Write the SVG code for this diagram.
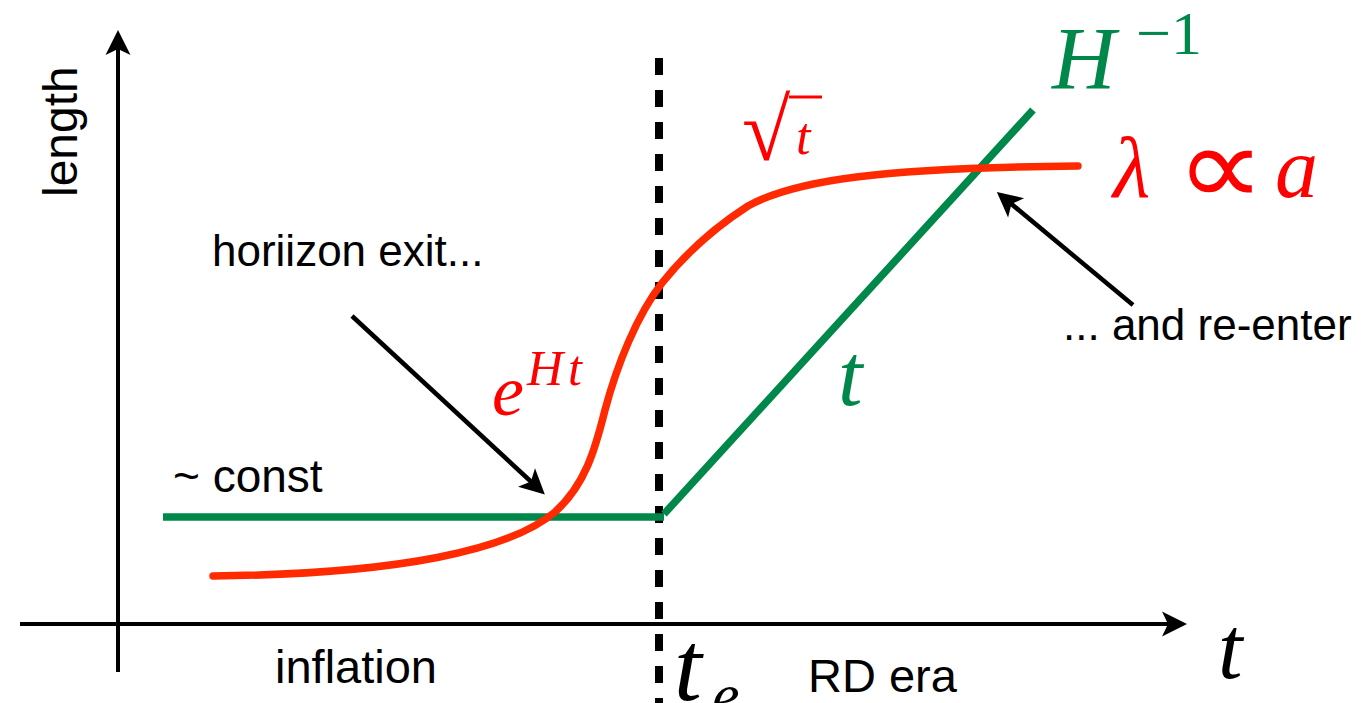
<svg xmlns="http://www.w3.org/2000/svg" width="1364" height="703" viewBox="0 0 1364 703">
<style>
.axis{stroke:#000;stroke-width:4;fill:none}
.arrow{stroke:#000;stroke-width:4.5;fill:none}
.green{stroke:#00874a;stroke-width:7.5;fill:none}
.red{stroke:#ff2a00;stroke-width:7.5;fill:none;stroke-linecap:round}
.dash{stroke:#000;stroke-width:8;stroke-dasharray:17 15;fill:none}
.sans{font-family:"Liberation Sans",Arial,sans-serif;fill:#000}
.math{font-family:"Liberation Serif","DejaVu Serif",serif;font-style:italic}
.up{font-family:"Liberation Serif","DejaVu Serif",serif;font-style:normal}
</style>
<defs>
<marker id="ah" viewBox="-26 -13 27 26" markerWidth="27" markerHeight="26" refX="-8" refY="0" orient="auto" markerUnits="userSpaceOnUse">
<path d="M0,0 L-25,-12.5 L-19,0 L-25,12.5 Z" fill="#000"/>
</marker>
</defs>
<g id="axes">
<line class="axis" x1="118" y1="672" x2="118" y2="38" marker-end="url(#ah)"/>
<line class="axis" x1="20" y1="624" x2="1179" y2="624" marker-end="url(#ah)"/>
<line class="dash" x1="659" y1="58" x2="659" y2="703"/>
</g>
<g id="connectors">
<line class="green" x1="163" y1="517" x2="664" y2="517"/>
<line class="green" x1="664" y1="514" x2="1033" y2="110"/>
<path class="red" d="M213,576 C400,574 510,550 555,512 C585,485 595,450 605,410 C617,365 637,315 662,283 C690,248 720,224 748,206 C795,180 880,168 1078,166"/>
<line class="arrow" x1="352" y1="316" x2="539" y2="489" marker-end="url(#ah)"/>
<line class="arrow" x1="1133" y1="305" x2="1003" y2="197" marker-end="url(#ah)"/>
</g>
<g id="labels">
<text class="sans" font-size="48" transform="translate(77,197) rotate(-90)">length</text>
<text class="sans" font-size="44" x="212" y="266">horiizon exit...</text>
<text class="sans" font-size="46" x="173" y="492">~ const</text>
<text class="sans" font-size="44" x="1063" y="340">... and re-enter</text>
<text class="sans" font-size="47" x="275" y="683">inflation</text>
<text class="sans" font-size="47" x="808" y="692">RD era</text>
</g>
<g id="math-labels">
<text class="math" fill="#00874a" font-size="88" x="1052" y="88">H</text>
<text class="up" fill="#00874a" font-size="62" x="1136" y="54">−1</text>
<text class="math" fill="#ff0000" font-size="86" x="1113" y="197">λ</text>
<text fill="#ff0000" font-size="86" font-family="'DejaVu Sans',sans-serif" font-weight="200" transform="translate(1176,205) scale(1.45,1.3)">∝</text>
<text class="math" fill="#ff0000" font-size="86" x="1275" y="197">a</text>
<text class="math" fill="#ff0000" font-size="72" x="492" y="415">e</text>
<text class="math" fill="#ff0000" font-size="50" x="527" y="385" letter-spacing="5">Ht</text>
<text class="up" fill="#ff0000" font-size="88" x="742" y="160">√</text>
<line x1="789" y1="97" x2="822" y2="97" stroke="#ff0000" stroke-width="3"/>
<text class="math" fill="#ff0000" font-size="52" x="796" y="154">t</text>
<text class="math" fill="#00874a" font-size="88" x="838" y="405">t</text>
<text class="math" fill="#000" font-size="88" x="1218" y="678">t</text>
<text class="math" fill="#000" font-size="100" x="674" y="700">t</text>
<text class="math" fill="#000" font-size="62" x="712" y="716">e</text>
</g>
</svg>
